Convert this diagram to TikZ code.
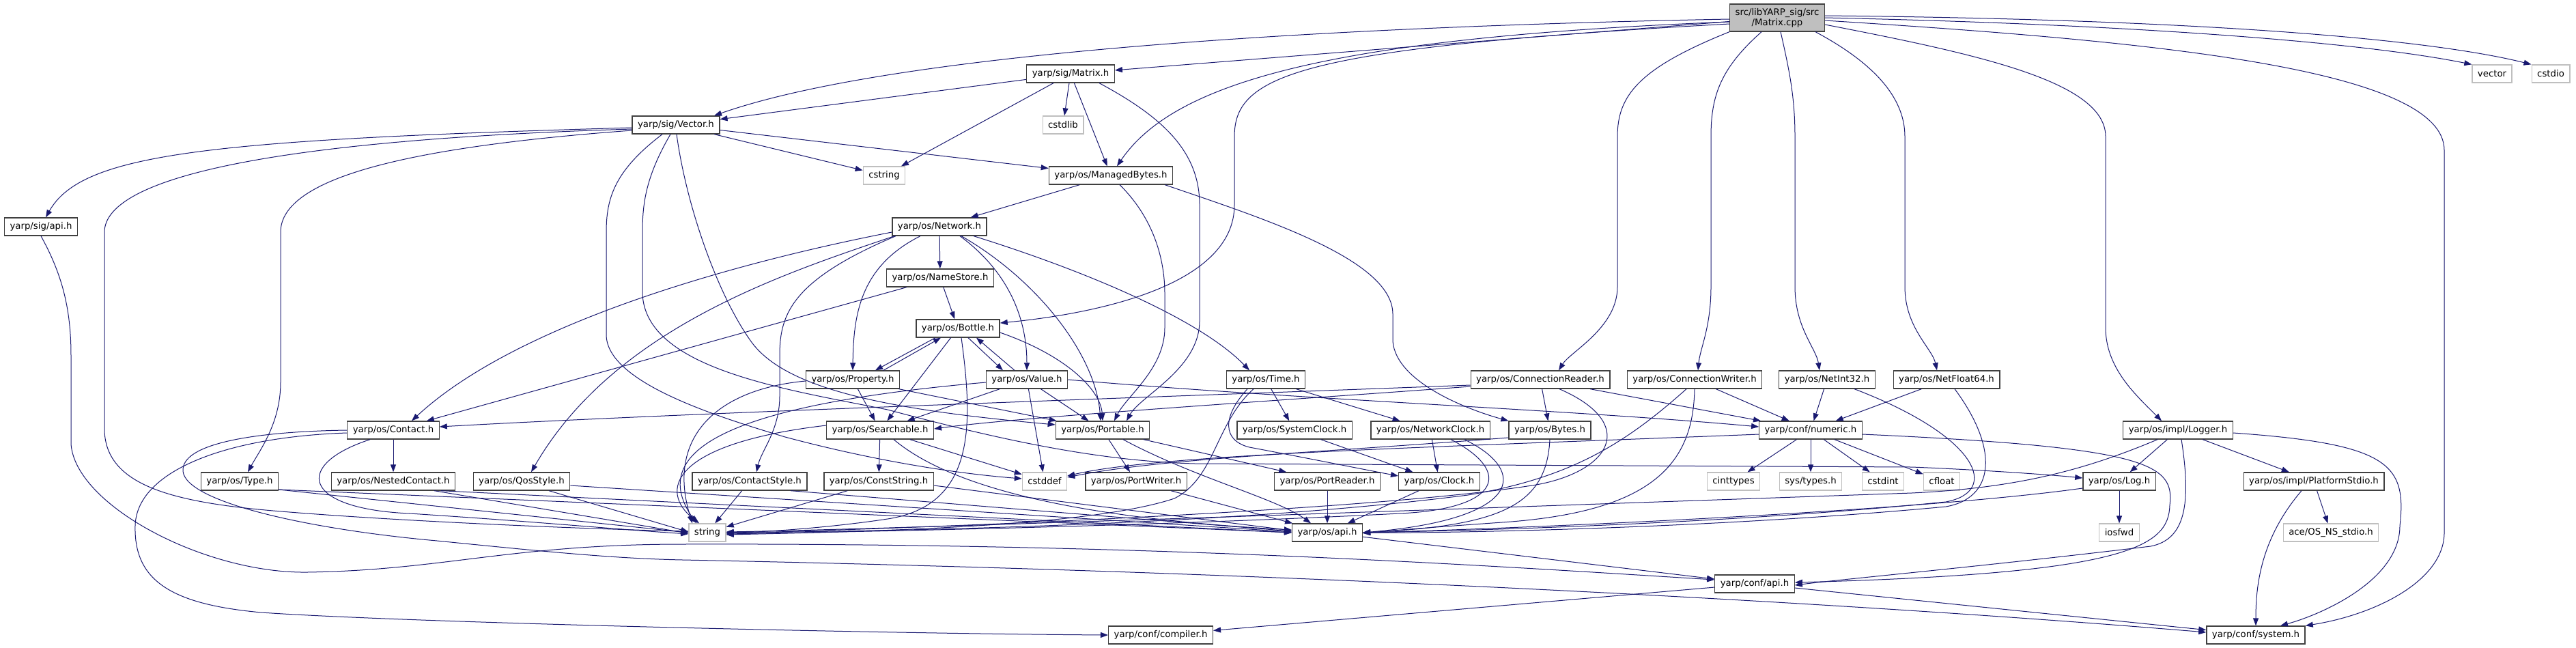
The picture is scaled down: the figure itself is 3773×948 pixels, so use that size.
\documentclass[tikz,border=0pt]{standalone}
\usepackage{fontspec}
\setmainfont{DejaVu Sans}
\usetikzlibrary{arrows.meta}

\definecolor{edgeblue}{HTML}{191970}
\definecolor{sysgray}{HTML}{BFBFBF}
\definecolor{boxline}{HTML}{404040}

\tikzset{
  hdr/.style={draw=boxline,line width=1.3pt,fill=white,minimum height=26pt,
    inner xsep=8pt,inner ysep=2pt,font=\fontsize{13.3}{15}\selectfont},
  sys/.style={hdr,draw=sysgray},
  rootbox/.style={hdr,fill=sysgray,align=center,minimum height=40pt},
  dep/.style={draw=edgeblue,line width=1pt,-{Triangle[length=11pt,width=8pt]}}
}

\begin{document}
\begin{tikzpicture}[x=1pt,y=-1pt]
  \useasboundingbox (0,0) rectangle (3773,948);

  \node[rootbox] (cpp) at (2603,26) {src/libYARP\_sig/src\\/Matrix.cpp};
  \node[hdr] (sigMatrix) at (1568,108) {yarp/sig/Matrix.h};
  \node[sys] (vector) at (3650,108) {vector};
  \node[sys] (cstdio) at (3736,108) {cstdio};
  \node[hdr] (sigVector) at (990,183) {yarp/sig/Vector.h};
  \node[sys] (cstdlib) at (1557,183) {cstdlib};
  \node[sys] (cstring) at (1295,257) {cstring};
  \node[hdr] (managedBytes) at (1627,257) {yarp/os/ManagedBytes.h};
  \node[hdr] (sigApi) at (60,332) {yarp/sig/api.h};
  \node[hdr] (network) at (1376,332) {yarp/os/Network.h};
  \node[hdr] (nameStore) at (1377,407) {yarp/os/NameStore.h};
  \node[hdr] (bottle) at (1403,481) {yarp/os/Bottle.h};
  \node[hdr] (property) at (1249,556) {yarp/os/Property.h};
  \node[hdr] (value) at (1504,556) {yarp/os/Value.h};
  \node[hdr] (time) at (1854,556) {yarp/os/Time.h};
  \node[hdr] (connReader) at (2256,556) {yarp/os/ConnectionReader.h};
  \node[hdr] (connWriter) at (2482,556) {yarp/os/ConnectionWriter.h};
  \node[hdr] (netInt) at (2676,556) {yarp/os/NetInt32.h};
  \node[hdr] (netFloat) at (2851,556) {yarp/os/NetFloat64.h};
  \node[hdr] (contact) at (576,630) {yarp/os/Contact.h};
  \node[hdr] (searchable) at (1289,630) {yarp/os/Searchable.h};
  \node[hdr] (portable) at (1615,630) {yarp/os/Portable.h};
  \node[hdr] (systemClock) at (1896,630) {yarp/os/SystemClock.h};
  \node[hdr] (networkClock) at (2095,630) {yarp/os/NetworkClock.h};
  \node[hdr] (bytes) at (2270,630) {yarp/os/Bytes.h};
  \node[hdr] (numeric) at (2652,630) {yarp/conf/numeric.h};
  \node[hdr] (logger) at (3190,630) {yarp/os/impl/Logger.h};
  \node[hdr] (type) at (351,705) {yarp/os/Type.h};
  \node[hdr] (nestedContact) at (576,705) {yarp/os/NestedContact.h};
  \node[hdr] (qosStyle) at (764,705) {yarp/os/QosStyle.h};
  \node[hdr] (contactStyle) at (1098,705) {yarp/os/ContactStyle.h};
  \node[hdr] (constString) at (1287,705) {yarp/os/ConstString.h};
  \node[sys] (cstddef) at (1530,705) {cstddef};
  \node[hdr] (portWriter) at (1664,705) {yarp/os/PortWriter.h};
  \node[hdr] (portReader) at (1944,705) {yarp/os/PortReader.h};
  \node[hdr] (clock) at (2108,705) {yarp/os/Clock.h};
  \node[sys] (cinttypes) at (2539,705) {cinttypes};
  \node[sys] (systypes) at (2652,705) {sys/types.h};
  \node[sys] (cstdint) at (2758,705) {cstdint};
  \node[sys] (cfloat) at (2844,705) {cfloat};
  \node[hdr] (log) at (3104,705) {yarp/os/Log.h};
  \node[hdr] (platformStdio) at (3389,705) {yarp/os/impl/PlatformStdio.h};
  \node[sys] (string) at (1036,780) {string};
  \node[hdr] (osApi) at (1944,780) {yarp/os/api.h};
  \node[sys] (iosfwd) at (3104,780) {iosfwd};
  \node[sys] (aceStdio) at (3414,780) {ace/OS\_NS\_stdio.h};
  \node[hdr] (confApi) at (2570,855) {yarp/conf/api.h};
  \node[hdr] (compiler) at (1700,930) {yarp/conf/compiler.h};
  \node[hdr] (system) at (3304,930) {yarp/conf/system.h};

  % short includes
  \foreach \a/\b in {cpp/sigMatrix, sigMatrix/sigVector, sigMatrix/cstring, sigMatrix/cstdlib,
      sigMatrix/managedBytes, sigVector/cstring, sigVector/managedBytes, managedBytes/network,
      network/nameStore, nameStore/bottle, nameStore/contact, bottle/searchable,
      property/searchable, property/portable, value/searchable, value/portable, value/cstddef,
      time/systemClock, time/networkClock, connReader/bytes, connReader/numeric,
      connWriter/numeric, netInt/numeric, netFloat/numeric, logger/log, logger/platformStdio,
      log/iosfwd, platformStdio/aceStdio, numeric/cinttypes, numeric/systypes, numeric/cstdint,
      numeric/cfloat, networkClock/clock, systemClock/clock, clock/osApi, portReader/osApi,
      portable/portWriter, portable/portReader, portWriter/osApi, searchable/constString,
      searchable/cstddef, constString/string, contactStyle/string, contact/nestedContact,
      osApi/confApi, confApi/compiler, confApi/system}
    \draw[dep] (\a) -- (\b);

  % rows of headers to string and os/api
  \draw[dep] ([yshift=-12pt]type.east) -- (string.west);
  \draw[dep] ([yshift=-12pt]type.east) -- (osApi.west);
  \draw[dep] ([xshift=60pt]nestedContact.south) -- ([yshift=-1pt]string.west);
  \draw[dep] ([xshift=70pt]nestedContact.south) -- (osApi.west);
  \draw[dep] ([xshift=40pt]qosStyle.south) -- ([yshift=1pt]string.west);
  \draw[dep] ([yshift=-6pt]qosStyle.east) -- ([yshift=1pt]osApi.west);
  \draw[dep] ([xshift=60pt]contactStyle.south) -- ([yshift=2pt]osApi.west);
  \draw[dep] ([yshift=-6pt]constString.east) -- ([yshift=3pt]osApi.west);

  % source file
  \draw[dep] ([yshift=-2pt]cpp.west) .. controls (1900,40) and (1300,80) .. ([xshift=56pt]sigVector.north);
  \draw[dep] ([yshift=-6pt]cpp.west) .. controls (1950,55) and (1720,120) .. ([xshift=9pt]managedBytes.north);
  \draw[dep] ([yshift=-9pt]cpp.west) .. controls (1900,70) and (1808,110) .. (1808,200) -- (1808,300)
    .. controls (1808,420) and (1600,460) .. ([yshift=8pt]bottle.east);
  \draw[dep] (cpp.south west) .. controls (2400,100) and (2369,140) .. (2369,200) -- (2369,420)
    .. controls (2369,480) and (2300,515) .. ([xshift=27pt]connReader.north);
  \draw[dep] ([xshift=-23pt]cpp.south) .. controls (2520,100) and (2506,140) .. (2506,200) -- (2506,420)
    .. controls (2506,480) and (2490,510) .. ([xshift=5pt]connWriter.north);
  \draw[dep] ([xshift=5pt]cpp.south) .. controls (2620,100) and (2629,140) .. (2629,200) -- (2629,420)
    .. controls (2629,480) and (2660,510) .. ([xshift=-11pt]netInt.north);
  \draw[dep] ([xshift=56pt]cpp.south) .. controls (2740,90) and (2790,140) .. (2790,200) -- (2790,420)
    .. controls (2790,480) and (2830,510) .. ([xshift=-14pt]netFloat.north);
  \draw[dep] ([yshift=-10pt]cpp.east) .. controls (2900,80) and (3084,120) .. (3084,200) -- (3084,480)
    .. controls (3084,540) and (3130,580) .. ([xshift=-24pt]logger.north);
  \draw[dep] ([yshift=-4pt]cpp.east) .. controls (3150,60) and (3580,100) .. (3580,220) -- (3580,780)
    .. controls (3580,850) and (3480,900) .. (system.north east);
  \draw[dep] (cpp.east) .. controls (3100,35) and (3450,60) .. (vector.north west);
  \draw[dep] ([yshift=3pt]cpp.east) .. controls (3200,28) and (3550,55) .. (cstdio.north west);

  % sig headers
  \draw[dep] ([xshift=42pt]sigMatrix.south) .. controls (1700,170) and (1757,220) .. (1757,300) -- (1757,470)
    .. controls (1757,540) and (1670,580) .. ([xshift=35pt]portable.north);
  \draw[dep] ([yshift=-4pt]sigVector.west) .. controls (300,205) and (120,225) .. ([xshift=7pt]sigApi.north);
  \draw[dep] ([yshift=-6pt]sigVector.west) .. controls (400,205) and (153,260) .. (153,340) -- (153,630)
    .. controls (155,710) and (250,735) .. (400,748) .. controls (600,765) and (900,776) .. ([yshift=2pt]string.west);
  \draw[dep] ([yshift=-8pt]sigVector.west) .. controls (600,215) and (411,260) .. (411,340) -- (411,560)
    .. controls (411,620) and (380,660) .. ([xshift=12pt]type.north);
  \draw[dep] ([xshift=-20pt]sigVector.south) .. controls (900,250) and (888,290) .. (888,340) -- (888,490)
    .. controls (888,560) and (1050,610) .. (1150,640) .. controls (1300,680) and (1420,695) .. ([yshift=4pt]cstddef.west);
  \draw[dep] ([xshift=-8pt]sigVector.south) .. controls (945,260) and (941,300) .. (941,340) -- (941,430)
    .. controls (945,540) and (1150,570) .. (1300,600) .. controls (1450,640) and (1600,675) .. (1750,679)
    -- (2800,684) .. controls (2900,688) and (3000,695) .. ([yshift=5pt]log.west);
  \draw[dep] ([xshift=1pt]sigVector.south) .. controls (1005,300) and (1050,430) .. (1100,500)
    .. controls (1150,570) and (1300,600) .. ([yshift=8pt]portable.west);
  \draw[dep] (sigApi.south) .. controls (90,400) and (104,450) .. (104,520) -- (104,650)
    .. controls (110,740) and (300,840) .. (450,838) .. controls (650,835) and (750,797) .. (1000,797)
    .. controls (1700,795) and (2200,830) .. ([yshift=6pt]confApi.west);

  % os headers
  \draw[dep] ([xshift=13pt]managedBytes.south) .. controls (1690,320) and (1706,380) .. (1706,430) -- (1706,480)
    .. controls (1706,540) and (1650,580) .. ([xshift=17pt]portable.north);
  \draw[dep] ([xshift=-12pt]managedBytes.south east) .. controls (1850,320) and (2040,380) .. (2040,460) -- (2040,500)
    .. controls (2045,560) and (2150,600) .. (bytes.north west);
  \draw[dep] ([yshift=-8pt]network.west) .. controls (1050,390) and (750,480) .. ([xshift=27pt]contact.north);
  \draw[dep] ([xshift=-66pt]network.south) .. controls (1150,400) and (900,480) .. ([xshift=14pt]qosStyle.north);
  \draw[dep] ([xshift=-64pt]network.south) .. controls (1160,410) and (1142,460) .. (1142,520) -- (1142,580)
    .. controls (1142,630) and (1115,660) .. ([xshift=10pt]contactStyle.north);
  \draw[dep] ([xshift=-28pt]network.south) .. controls (1260,390) and (1250,460) .. (property.north);
  \draw[dep] ([xshift=30pt]network.south) .. controls (1480,400) and (1504,470) .. (value.north);
  \draw[dep] ([xshift=32pt]network.south) .. controls (1520,410) and (1605,520) .. ([xshift=-3pt]portable.north);
  \draw[dep] ([xshift=50pt]network.south) .. controls (1600,400) and (1760,470) .. ([xshift=-24pt]time.north);

  \draw[dep] ([xshift=-33pt]bottle.south) -- ([xshift=33pt]property.north);
  \draw[dep] ([xshift=45pt]property.north) -- ([xshift=-25pt]bottle.south);
  \draw[dep] ([xshift=15pt]bottle.south) -- ([xshift=-35pt]value.north);
  \draw[dep] ([xshift=-18pt]value.north) -- ([xshift=27pt]bottle.south);
  \draw[dep] ([xshift=5pt]bottle.south) .. controls (1425,620) and (1430,740) .. (1300,760)
    .. controls (1200,775) and (1100,780) .. (string.east);
  \draw[dep] ([yshift=-6pt]bottle.east) .. controls (1560,520) and (1612,570) .. (portable.north);

  \draw[dep] ([yshift=-2pt]property.west) .. controls (1050,570) and (975,640) .. ([xshift=-22pt]string.north);
  \draw[dep] ([yshift=-4pt]value.west) .. controls (1100,590) and (940,650) .. ([xshift=-16pt]string.north);
  \draw[dep] (value.east) .. controls (1900,585) and (2300,600) .. ([yshift=5pt]numeric.west);

  \draw[dep] ([xshift=-27pt]time.south) .. controls (1790,610) and (1790,645) .. (1830,655)
    .. controls (1900,668) and (2000,688) .. ([yshift=8pt]clock.west);
  \draw[dep] ([xshift=-18pt]time.south) .. controls (1780,620) and (1780,700) .. (1720,730)
    .. controls (1600,770) and (1300,778) .. ([yshift=-3pt]string.east);

  \draw[dep] ([yshift=-8pt]connReader.west) .. controls (1600,585) and (1000,605) .. ([yshift=5pt]contact.east);
  \draw[dep] ([yshift=-10pt]connReader.west) .. controls (1900,585) and (1500,610) .. ([yshift=2pt]searchable.east);
  \draw[dep] ([xshift=28pt]connReader.south) .. controls (2400,620) and (2360,690) .. (2250,710)
    .. controls (2000,750) and (1300,775) .. ([yshift=-1pt]string.east);
  \draw[dep] (connWriter.south) .. controls (2480,680) and (2420,750) .. (2200,765)
    .. controls (2100,772) and (2050,776) .. ([yshift=-1pt]osApi.east);
  \draw[dep] ([xshift=-12pt]connWriter.south) .. controls (2380,650) and (2300,700) .. (2150,725)
    .. controls (1800,770) and (1300,778) .. (string.east);
  \draw[dep] ([xshift=40pt]netInt.south) .. controls (2900,640) and (2930,720) .. (2850,735)
    .. controls (2500,770) and (2100,778) .. (osApi.east);
  \draw[dep] ([xshift=12pt]netFloat.south) .. controls (2930,660) and (2920,730) .. (2850,742)
    .. controls (2500,775) and (2100,781) .. (osApi.east);

  \draw[dep] ([yshift=-4pt]logger.east) .. controls (3500,650) and (3525,680) .. (3515,770)
    .. controls (3515,850) and (3400,900) .. ([xshift=36pt]system.north);
  \draw[dep] ([xshift=5pt]logger.south) .. controls (3210,740) and (3200,790) .. (3150,800)
    .. controls (2900,830) and (2700,848) .. ([yshift=-2pt]confApi.east);
  \draw[dep] ([xshift=-30pt]logger.south) .. controls (3050,690) and (2950,715) .. (2800,722)
    .. controls (2000,750) and (1300,775) .. ([yshift=1pt]string.east);
  \draw[dep] ([yshift=-10pt]log.west) .. controls (2800,750) and (2200,775) .. (osApi.east);
  \draw[dep] ([xshift=-18pt]platformStdio.south) .. controls (3310,790) and (3304,860) .. (system.north);

  \draw[dep] ([yshift=-6pt]numeric.west) .. controls (2100,655) and (1700,665) .. ([yshift=8pt]cstddef.east);
  \draw[dep] ([yshift=-6pt]numeric.east) .. controls (3150,655) and (3185,680) .. (3178,740)
    .. controls (3176,800) and (3120,840) .. ([yshift=2pt]confApi.east);
  \draw[dep] (bytes.south) .. controls (2265,740) and (2200,770) .. (osApi.east);
  \draw[dep] ([yshift=-11pt]bytes.west) .. controls (1900,665) and (1700,672) .. ([yshift=6pt]cstddef.east);
  \draw[dep] ([xshift=50pt]networkClock.south) .. controls (2240,690) and (2230,760) .. (osApi.east);
  \draw[dep] ([xshift=30pt]networkClock.south) .. controls (2215,690) and (2200,745) .. (2050,752)
    .. controls (1700,770) and (1300,778) .. ([yshift=-2pt]string.east);

  \draw[dep] ([xshift=30pt]portable.south) .. controls (1750,700) and (1870,730) .. ([xshift=-24pt]osApi.north);
  \draw[dep] ([yshift=7pt]searchable.west) .. controls (980,650) and (965,720) .. ([xshift=-12pt]string.north);
  \draw[dep] ([xshift=20pt]searchable.south) .. controls (1400,720) and (1600,760) .. ([yshift=4pt]osApi.west);

  \draw[dep] ([xshift=-34pt]contact.south) .. controls (430,680) and (440,745) .. (600,752)
    .. controls (800,765) and (900,775) .. ([yshift=-2pt]string.west);
  \draw[dep] (contact.west) .. controls (370,632) and (265,650) .. (268,690)
    .. controls (272,735) and (450,775) .. (640,792) .. controls (800,808) and (900,818) .. (1000,820)
    .. controls (2000,840) and (2800,890) .. ([yshift=4pt]system.west);
  \draw[dep] ([yshift=-4pt]contact.west) .. controls (330,640) and (200,690) .. (198,770)
    .. controls (196,850) and (250,885) .. (383,897) .. controls (600,912) and (1300,928) .. (compiler.west);
\end{tikzpicture}
\end{document}
